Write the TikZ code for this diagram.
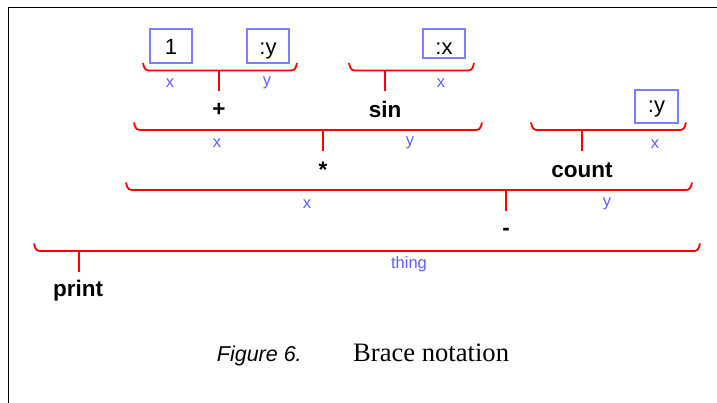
\documentclass[tikz,border=0pt]{standalone}
\usepackage{fontspec}
\setmainfont{Liberation Sans}
\newfontfamily\capserif{Liberation Serif}
\definecolor{bracered}{RGB}{255,0,0}
\definecolor{boxblue}{RGB}{125,125,255}
\definecolor{lblblue}{RGB}{95,95,255}

% brace: name, left x, right x, line y, stem x
\newcommand\bracewithstem[5]{%
  \draw[brace] (#2,#4-7.5) -- (#2+2,#4) -- (#3-2,#4) -- (#3,#4-7.5);
  \coordinate (#1) at (#5,#4);
  \coordinate (#1-end) at (#5,#4+21);
  \draw[stem] (#1) -- (#1-end);
}

\begin{document}
\begin{tikzpicture}[x=1pt,y=-1pt,
  brace/.style={draw=bracered, line width=1.8pt, rounded corners=3.5pt},
  stem/.style={draw=bracered, line width=1.8pt},
  argbox/.style={draw=boxblue, line width=1.8pt, inner sep=0pt,
    text depth=0pt, font=\fontsize{22}{22}\selectfont},
  op/.style={inner sep=0pt, font=\fontsize{22.5}{22.5}\selectfont\bfseries},
  lbl/.style={inner sep=0pt, text=lblblue, font=\fontsize{16.5}{16.5}\selectfont},
]
\useasboundingbox (0,0) rectangle (717,403);

% frame
\draw[line width=1.5pt] (8.7,403) -- (8.7,7.5) -- (717,7.5);

% argument boxes (text height sets where the baseline sits in the box)
\node[argbox, text height=18pt, minimum width=42pt, minimum height=33.4pt] (one) at (171,46) {1};
\node[argbox, text height=18pt, minimum width=42.7pt, minimum height=33.4pt] (ya) at (268,46) {:y};
\node[argbox, text height=23pt, minimum width=42.5pt, minimum height=28.4pt] (xa) at (444,43.5) {:x};
\node[argbox, text height=13.4pt, minimum width=43pt, minimum height=32.7pt] (yb) at (656.5,106.3) {:y};

% braces with their stems
\bracewithstem{bplus}{143}{297}{70.5}{219}
\bracewithstem{bsin}{349}{474}{70.5}{385}
\bracewithstem{btimes}{134}{482}{130}{323}
\bracewithstem{bcount}{531}{686}{130}{582}
\bracewithstem{bminus}{126}{692}{190}{506}
\bracewithstem{bprint}{34}{700}{251}{79}

% slot labels
\node[lbl] (lplusx) at (170,83) {x};
\node[lbl] (lplusy) at (267,83) {y};
\node[lbl] (lsinx) at (441,83) {x};
\node[lbl] (ltimesx) at (217,143) {x};
\node[lbl] (ltimesy) at (410,143) {y};
\node[lbl] (lcountx) at (655,144) {x};
\node[lbl] (lminusx) at (307,204) {x};
\node[lbl] (lminusy) at (607,204) {y};
\node[lbl] (lthing) at (409,264) {thing};

% operators
\node[op] (plus) at (219,110) {+};
\node[op] (sin) at (385,109) {sin};
\node[op] (times) at (323,170) {*};
\node[op] (count) at (582,170) {count};
\node[op] (minus) at (506,232) {-};
\node[op] (print) at (78,291) {print};

% caption
\node[inner sep=0pt, anchor=base west, font=\fontsize{21.5}{21.5}\selectfont\itshape]
  (capnum) at (216.7,361.5) {Figure 6.};
\node[inner sep=0pt, anchor=base west, font=\capserif\fontsize{26.6}{26.6}\selectfont]
  (captext) at (353,361.5) {Brace notation};
\end{tikzpicture}
\end{document}
